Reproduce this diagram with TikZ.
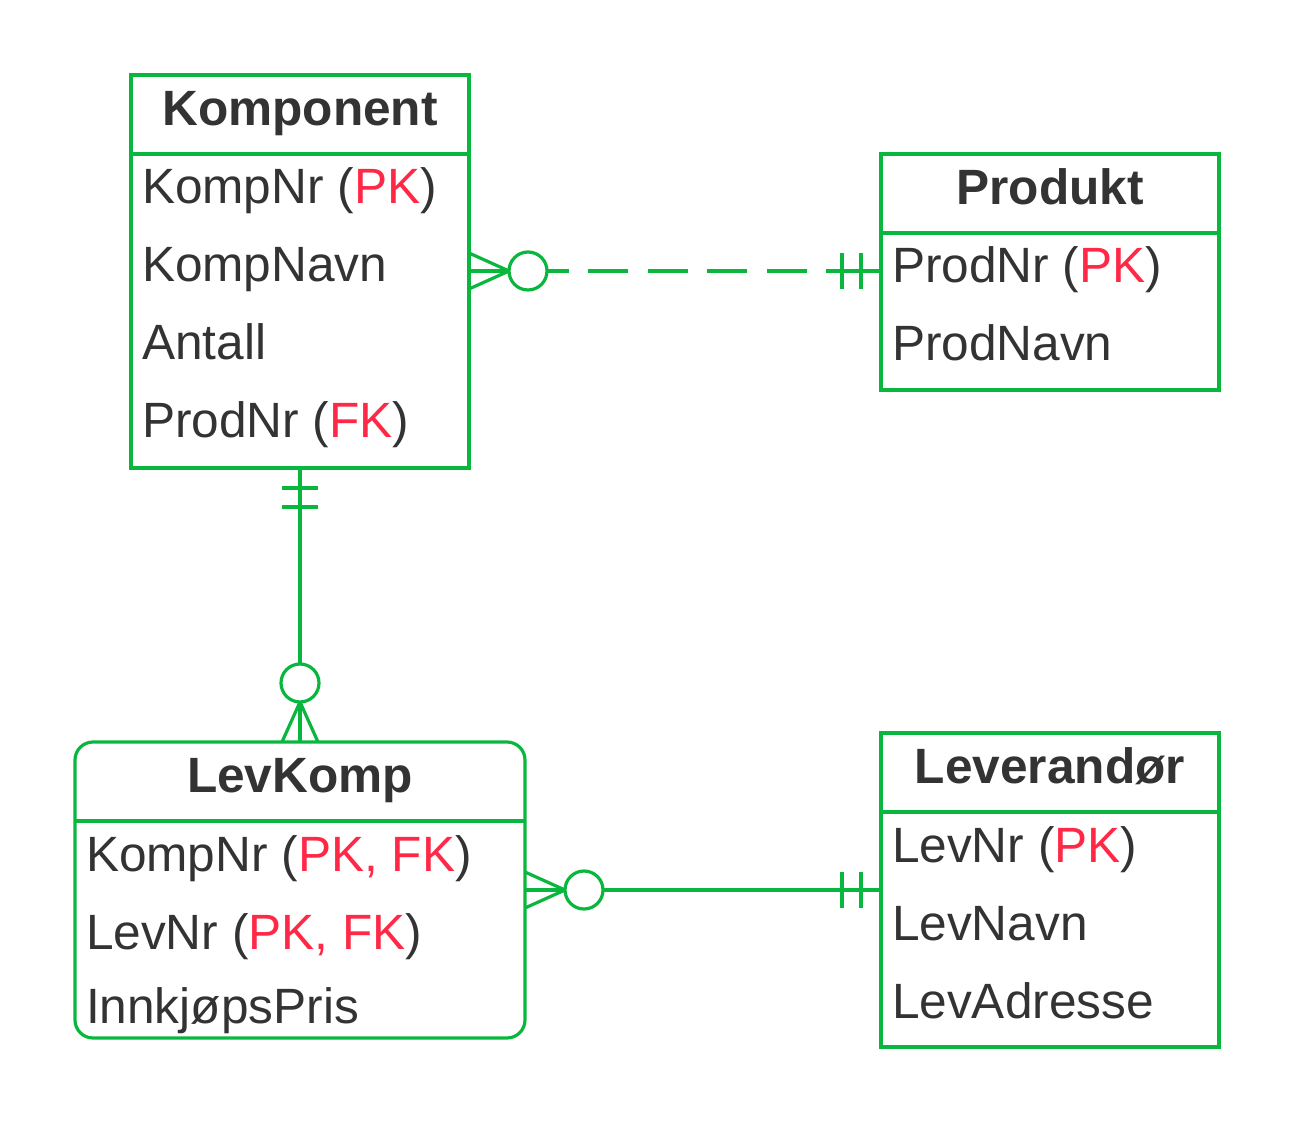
\documentclass[tikz,border=0pt]{standalone}
\usepackage{fontspec}
\setmainfont{Liberation Sans}
\usepackage{xcolor}
\usetikzlibrary{positioning}

\definecolor{ergreen}{RGB}{10,183,62}
\definecolor{ertext}{RGB}{51,51,51}
\definecolor{erkey}{RGB}{255,40,70}
\newcommand{\keytag}[1]{\textcolor{erkey}{#1}}

\begin{document}
\begin{tikzpicture}[x=1pt, y=1pt,
  every node/.style={font=\fontsize{49.6}{60}\selectfont, text=ertext},
  entity/.style={draw=ergreen, line width=3.2pt, outer sep=0pt, inner sep=0pt},
  enttitle/.style={anchor=north, minimum height=79pt, inner sep=0pt, outer sep=0pt,
                   text height=35pt, text depth=13pt,
                   font=\fontsize{49.6}{60}\selectfont\bfseries},
  field/.style={minimum height=78pt, inner xsep=11pt, inner ysep=0pt, outer sep=0pt,
                text height=35pt, text depth=13pt},
  divider/.style={draw=ergreen, line width=3.2pt},
  rel/.style={draw=ergreen, line width=3.2pt},
  crowzero/.pic={\draw[rel] (0,18) -- (40,0) -- (0,-18) (0,0) -- (40,0);
                 \draw[rel, fill=white] (59,0) circle (19);},
  oneone/.pic={\draw[rel] (0,0) -- (39,0) (20,18) -- (20,-18) (39,18) -- (39,-18);},
]
\useasboundingbox (0,0) rectangle (1294,-1123);

% Komponent
\node[entity, minimum width=338pt, minimum height=393pt] (komp) at (300,-271.5) {};
\node[enttitle, minimum width=338pt] (kompT) at (komp.north) {Komponent};
\draw[divider] (kompT.south west) -- (kompT.south east);
\node[field, below right=0pt and 0pt of kompT.south west] (kompNr) {KompNr (\keytag{PK})};
\node[field, below right=0pt and 0pt of kompNr.south west] (kompNavn) {KompNavn};
\node[field, below right=0pt and 0pt of kompNavn.south west] (kompAntall) {Antall};
\node[field, below right=0pt and 0pt of kompAntall.south west] (kompProd) {ProdNr (\keytag{FK})};

% Produkt
\node[entity, minimum width=338pt, minimum height=236pt] (prod) at (1050,-272) {};
\node[enttitle, minimum width=338pt] (prodT) at (prod.north) {Produkt};
\draw[divider] (prodT.south west) -- (prodT.south east);
\node[field, below right=0pt and 0pt of prodT.south west] (prodNr) {ProdNr (\keytag{PK})};
\node[field, below right=0pt and 0pt of prodNr.south west] (prodNavn) {ProdNavn};

% LevKomp
\node[entity, rounded corners=18pt, minimum width=450pt, minimum height=296pt] (levkomp) at (300,-890) {};
\node[enttitle, minimum width=450pt] (levkompT) at (levkomp.north) {LevKomp};
\draw[divider] (levkompT.south west) -- (levkompT.south east);
\node[field, below right=0pt and 0pt of levkompT.south west] (lkKomp) {KompNr (\keytag{PK, FK})};
\node[field, below right=0pt and 0pt of lkKomp.south west] (lkLev) {LevNr (\keytag{PK, FK})};
\node[field, minimum height=70pt, below right=0pt and 0pt of lkLev.south west] (lkPris) {InnkjøpsPris};

% Leverandør
\node[entity, minimum width=338pt, minimum height=314pt] (lev) at (1050,-890) {};
\node[enttitle, minimum width=338pt] (levT) at (lev.north) {Leverandør};
\draw[divider] (levT.south west) -- (levT.south east);
\node[field, below right=0pt and 0pt of levT.south west] (levNr) {LevNr (\keytag{PK})};
\node[field, below right=0pt and 0pt of levNr.south west] (levNavn) {LevNavn};
\node[field, below right=0pt and 0pt of levNavn.south west] (levAdr) {LevAdresse};

% relationships
\draw[rel, dash pattern=on 40pt off 19.5pt] (kompNavn -| komp.east) -- (kompNavn -| prod.west);
\pic at (kompNavn -| komp.east) {crowzero};
\pic[rotate=180] at (kompNavn -| prod.west) {oneone};

\draw[rel] (komp.south) -- (levkomp.north);
\pic[rotate=-90] at (komp.south) {oneone};
\pic[rotate=90] at (levkomp.north) {crowzero};

\draw[rel] (levkomp.east) -- (lev.west);
\pic at (levkomp.east) {crowzero};
\pic[rotate=180] at (lev.west) {oneone};
\end{tikzpicture}
\end{document}
